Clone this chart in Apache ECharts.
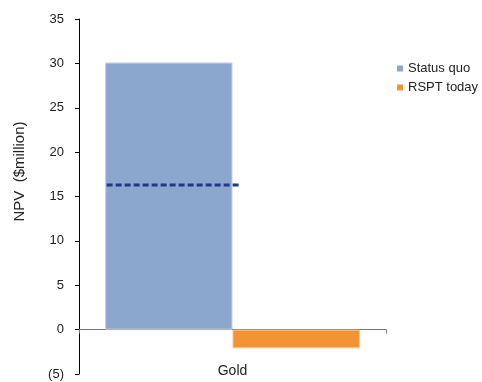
<!DOCTYPE html>
<html><head><meta charset="utf-8">
<script src="https://cdn.jsdelivr.net/npm/echarts@6/dist/echarts.min.js"></script>
<style>html,body{margin:0;padding:0;background:#fff}#c{width:482px;height:382px}</style>
</head><body><div id="c"></div>
<script>
const categories = ['Gold'];
const statusQuo = [30.1];
const rsptToday = [-2.1];
const refLineX = [0.09, 0.52];
const refLineY = [16.3, 16.3];
const yTicks = {'-5': '(5)'};

const chart = echarts.init(document.getElementById('c'));
const font = 'Liberation Sans, Arial, sans-serif';
chart.setOption({
  animation: false,
  grid: {left: 79, right: 96, top: 19, bottom: 8, outerBoundsMode: 'none', containLabel: false},
  legend: {
    orient: 'vertical', left: 397, top: 62, padding: 0, itemWidth: 6, itemHeight: 6, itemGap: 6,
    icon: 'rect', itemStyle: {borderWidth: 0},
    textStyle: {fontFamily: font, fontSize: 13, color: '#222'},
    data: ['Status quo', 'RSPT today']
  },
  xAxis: [{
    type: 'category', data: categories,
    axisLine: {onZero: true, lineStyle: {color: '#777', width: 1}},
    axisTick: {show: true, length: 4, lineStyle: {color: '#777'}},
    axisLabel: {margin: -10, fontFamily: font, fontSize: 14, color: '#222'}
  }, {
    type: 'value', min: 0, max: 1, show: false
  }],
  yAxis: {
    type: 'value', min: -5, max: 35, interval: 5,
    name: 'NPV  ($million)', nameLocation: 'middle', nameGap: 52,
    nameTextStyle: {fontFamily: font, fontSize: 15, color: '#222', padding: [0, 0, 0, 50]},
    axisLine: {show: true, lineStyle: {color: '#000'}},
    axisTick: {show: true, length: 4, lineStyle: {color: '#000'}},
    splitLine: {show: false},
    axisLabel: {fontFamily: font, fontSize: 13, color: '#222', margin: 15,
      formatter: v => yTicks[v] !== undefined ? yTicks[v] : String(v)}
  },
  series: [{
    name: 'Status quo', type: 'bar', data: statusQuo, barGap: '0%', barCategoryGap: '17%',
    itemStyle: {color: '#8BA7CD', borderColor: '#C5D3E6', borderWidth: 1}
  }, {
    name: 'RSPT today', type: 'bar', data: rsptToday,
    itemStyle: {color: '#F39434', borderColor: '#F8C08A', borderWidth: 1}
  }, {
    type: 'line', xAxisIndex: 1, symbol: 'none',
    data: refLineX.map((x, i) => [x, refLineY[i]]),
    lineStyle: {color: '#1F3A8A', width: 3, type: [6, 3]}
  }]
});
</script></body></html>
